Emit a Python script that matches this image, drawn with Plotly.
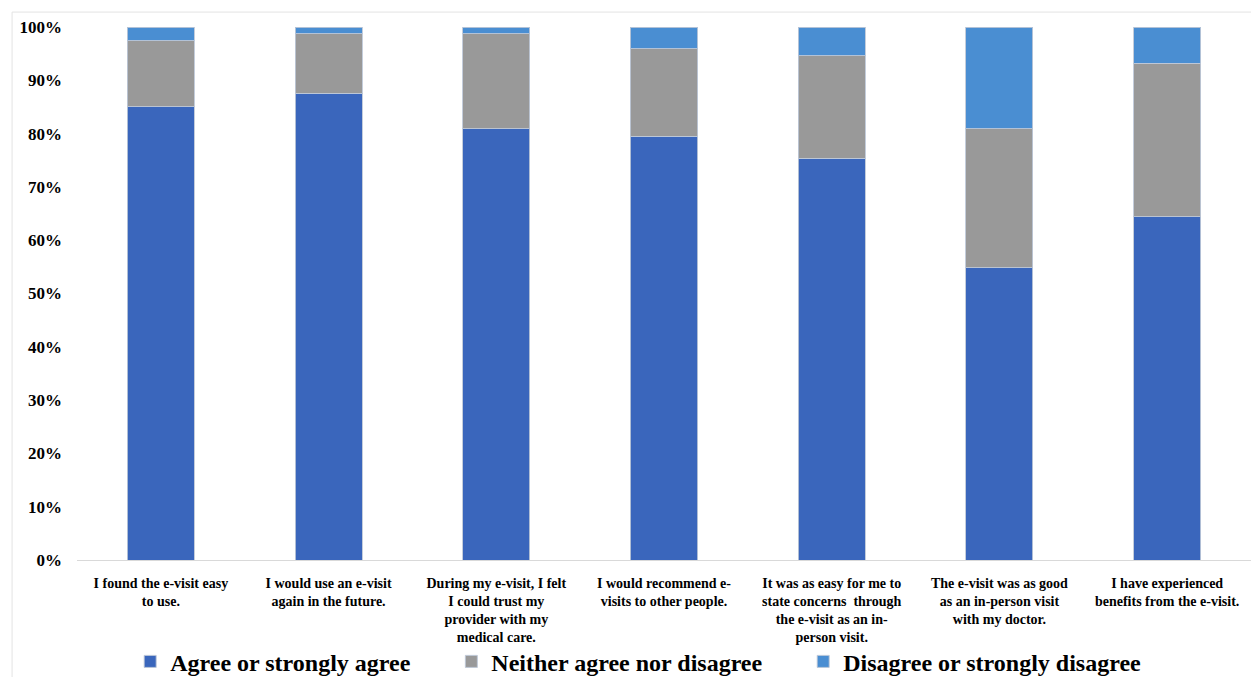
import plotly.graph_objects as go

categories = [
    "I found the e-visit easy<br>to use.",
    "I would use an e-visit<br>again in the future.",
    "During my e-visit, I felt<br>I could trust my<br>provider with my<br>medical care.",
    "I would recommend e-<br>visits to other people.",
    "It was as easy for me to<br>state concerns  through<br>the e-visit as an in-<br>person visit.",
    "The e-visit was as good<br>as an in-person visit<br>with my doctor.",
    "I have experienced<br>benefits from the e-visit.",
]
agree = [0.850, 0.876, 0.809, 0.795, 0.754, 0.548, 0.644]
neither = [0.124, 0.111, 0.178, 0.164, 0.192, 0.261, 0.288]
disagree = [0.026, 0.013, 0.013, 0.041, 0.054, 0.191, 0.068]
series_names = ["Agree or strongly agree", "Neither agree nor disagree", "Disagree or strongly disagree"]
colors = ["#3a66bc", "#999999", "#4a8ed2"]
tick_vals = [i / 10 for i in range(11)]
tick_text = [f"{i * 10}%" for i in range(11)]

font_family = "Liberation Serif"
pad = "\u00a0" * 6

fig = go.Figure()
for i, (name, vals, col) in enumerate(zip(series_names, [agree, neither, disagree], colors)):
    label = f"<b>{name}</b>" + (pad if i < 2 else "")
    fig.add_trace(go.Bar(
        x=categories, y=vals, name=label,
        marker=dict(color=col, line=dict(color="rgba(190,200,215,0.9)", width=1)),
    ))

fig.update_layout(
    barmode="stack",
    bargap=0.6,
    width=1251, height=677,
    margin=dict(l=77, r=0, t=27, b=117, autoexpand=False),
    paper_bgcolor="white", plot_bgcolor="white",
    font=dict(family=font_family, color="black"),
    showlegend=True,
    legend=dict(
        orientation="h", x=0.478, xanchor="center", y=-0.191, yanchor="middle",
        font=dict(family=font_family, size=24, color="black"),
        traceorder="normal", itemwidth=30, bgcolor="rgba(0,0,0,0)",
    ),
    xaxis=dict(
        showline=True, linecolor="#d9d9d9", linewidth=1, automargin=False,
        tickvals=categories, ticktext=[f"<b>{c}</b>" for c in categories],
        tickfont=dict(family=font_family, size=14, color="black"),
        ticks="", tickangle=0, showgrid=False, ticklabelstandoff=10,
    ),
    yaxis=dict(
        range=[0, 1], tickvals=tick_vals, ticktext=[f"<b>{t}</b>" for t in tick_text],
        tickfont=dict(family=font_family, size=17, color="black"),
        showgrid=False, zeroline=False, showline=False, ticks="",
        ticklabelstandoff=14, automargin=False,
    ),
    shapes=[dict(
        type="rect", xref="paper", yref="paper",
        x0=-0.0553, x1=1.05, y0=-0.3, y1=1.028,
        line=dict(color="#e3e3e3", width=1), fillcolor="rgba(0,0,0,0)", layer="below",
    )],
)

fig.write_html("out.html")
